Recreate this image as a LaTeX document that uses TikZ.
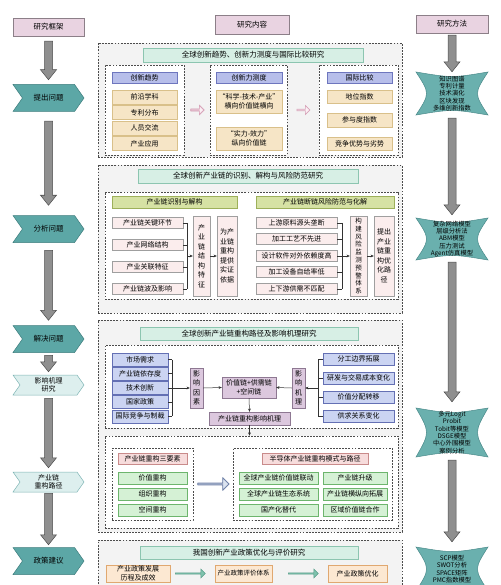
\documentclass[tikz,border=0pt]{standalone}
\usepackage{fontspec}
\setmainfont{Noto Sans CJK SC}
\usetikzlibrary{shapes.symbols,shapes.arrows,arrows.meta,calc}

\definecolor{cHead}{HTML}{E9D3E1}
\definecolor{cHeadL}{HTML}{8C7F88}
\definecolor{cStage}{HTML}{5CA7A6}
\definecolor{cStageL}{HTML}{3D7D7D}
\definecolor{cLite}{HTML}{DDEFEE}
\definecolor{cLiteL}{HTML}{7FB5B5}
\definecolor{cSec}{HTML}{F3F3F3}
\definecolor{cMint}{HTML}{D7EFE5}
\definecolor{cMintL}{HTML}{8CC5B0}
\definecolor{cBlueH}{HTML}{B7BEEA}
\definecolor{cBlueHL}{HTML}{6E76BE}
\definecolor{cTan}{HTML}{F6E5C6}
\definecolor{cTanL}{HTML}{D9C08A}
\definecolor{cOlive}{HTML}{D6E2A4}
\definecolor{cOliveL}{HTML}{9DB05A}
\definecolor{cPinkIt}{HTML}{FBEDED}
\definecolor{cMauve}{HTML}{DCC8DE}
\definecolor{cMauveL}{HTML}{8E7892}
\definecolor{cBlueIt}{HTML}{CBD4F2}
\definecolor{cBlueItL}{HTML}{6470B4}
\definecolor{cGreen}{HTML}{D5F1D5}
\definecolor{cGreenL}{HTML}{6DB56D}
\definecolor{cPinkH}{HTML}{F7DCDC}
\definecolor{cPinkHL}{HTML}{C98B8B}
\definecolor{cPeach}{HTML}{FCE8D2}
\definecolor{cPeachL}{HTML}{E0A870}
\definecolor{cMethod}{HTML}{6AB0AE}
\definecolor{cMethodL}{HTML}{4A8A8A}
\definecolor{cArrow}{HTML}{8F8F8F}
\definecolor{cHollow}{HTML}{FBEFF4}
\definecolor{cHollowL}{HTML}{D7A2B8}
\definecolor{cBigAr}{HTML}{DCE4F0}
\definecolor{cBigArL}{HTML}{6C7EA6}
\definecolor{cSolid}{HTML}{7EC3AE}
\definecolor{cSolidL}{HTML}{5A9E8A}

\tikzset{
  box/.style={draw, inner sep=0pt, align=center, line width=0.45pt, font=\fontsize{7}{8.5}\selectfont},
  headbox/.style={fill=cHead, draw=cHeadL, font=\fontsize{7.5}{9}\selectfont},
  stage/.style={shape=signal, signal from=west, signal to=east, signal pointer angle=110,
    fill=cStage, draw=cStageL, line width=0.5pt, inner sep=0pt, minimum width=71pt,
    minimum height=27pt, align=center, font=\fontsize{7.5}{9}\selectfont},
  stagelite/.style={stage, fill=cLite, draw=cLiteL, minimum height=20pt, font=\fontsize{7}{8}\selectfont},
  section/.style={fill=cSec, draw=black!70, line width=0.8pt, dash pattern=on 1.8pt off 1.3pt},
  subsec/.style={section, fill=white, line width=0.7pt},
  titlebar/.style={fill=cMint, draw=cMintL, font=\fontsize{7.5}{9}\selectfont},
  bluehead/.style={fill=cBlueH, draw=cBlueHL},
  tanitem/.style={fill=cTan, draw=cTanL},
  olivehead/.style={fill=cOlive, draw=cOliveL},
  pinkitem/.style={fill=cPinkIt, draw=gray!75},
  vtxt/.style={pinkitem, font=\fontsize{7}{9.5}\selectfont},
  mauvebox/.style={fill=cMauve, draw=cMauveL},
  blueitem/.style={fill=cBlueIt, draw=cBlueItL},
  greenitem/.style={fill=cGreen, draw=cGreenL},
  pinkhead/.style={fill=cPinkH, draw=cPinkHL},
  peachitem/.style={fill=cPeach, draw=cPeachL},
  methodshape/.style={fill=cMethod, draw=cMethodL, line width=0.5pt},
  methodtext/.style={inner sep=0pt, align=center, minimum width=72pt, font=\fontsize{6.3}{7.4}\selectfont},
  fatgray/.style={fill=cArrow, draw=black!70, line width=0.5pt},
  hollowarrow/.style={shape=single arrow, draw=cHollowL, fill=cHollow, line width=0.6pt,
    inner sep=0pt, minimum height=13pt, minimum width=9pt, single arrow head extend=1.5pt},
  bigarrow/.style={shape=single arrow, draw=cBigArL, fill=cBigAr, line width=0.6pt,
    inner sep=0pt, minimum height=31pt, minimum width=12pt, single arrow head extend=2pt},
  solidarrow/.style={shape=single arrow, draw=cSolidL, fill=cSolid, line width=0.5pt,
    inner sep=0pt, minimum height=30pt, minimum width=9pt, single arrow head extend=1.5pt},
  link/.style={draw=black!80, line width=0.5pt},
}

% box from corner (x1,y1) to (x2,y2), in pixels
\newcommand\bx[7][]{\node[box,#1,minimum width={((#5)-(#3))*1pt},minimum height={((#6)-(#4))*1pt}] (#2) at ({((#3)+(#5))/2},{((#4)+(#6))/2}) {#7};}
% method shape with concave sides
\newcommand\methodbox[5]{%
  \filldraw[methodshape] ({#2-36},#3) .. controls (#2,{#3+6}) .. ({#2+36},#3)
    .. controls ({#2+22},{(#3+#4)/2}) .. ({#2+36},#4)
    .. controls (#2,{#4-6}) .. ({#2-36},#4)
    .. controls ({#2-22},{(#3+#4)/2}) .. ({#2-36},#3) -- cycle;
  \node[methodtext,minimum height={(#4-#3)*1pt}] (#1) at (#2,{(#3+#4)/2}) {#5};}
% fat gray arrow between two nodes
\newcommand\fatdown[4]{%
  \path (#1) ++(0,#3) coordinate (fdA) (#2) ++(0,-#4) coordinate (fdB);
  \filldraw[fatgray] ($(fdA)+(-4,0)$) -- ($(fdB)+(-4,-10)$) -- ($(fdB)+(-8,-10)$) -- (fdB)
    -- ($(fdB)+(8,-10)$) -- ($(fdB)+(4,-10)$) -- ($(fdA)+(4,0)$) -- cycle;}

\begin{document}
\begin{tikzpicture}[x=1pt,y=-1pt,>={Stealth[length=3.2pt,width=2.8pt]}]
\useasboundingbox (0,0) rectangle (500,585);

% column heads
\bx[headbox]{hFrame}{13}{18}{84}{36}{研究框架}
\bx[headbox]{hContent}{215}{15}{289}{34}{研究内容}
\bx[headbox]{hMethod}{416}{15}{488}{33}{研究方法}

% left column
\node[stage] (s1) at (48.5,98) {提出问题};
\node[stage] (s2) at (48.5,229) {分析问题};
\node[stage] (s3) at (48.5,339) {解决问题};
\node[stagelite] (s4) at (48.5,385) {影响机理\\研究};
\node[stagelite] (s5) at (48.5,482) {产业链\\重构路径};
\node[stage] (s6) at (48.5,561) {政策建议};
\fatdown{hFrame.south}{s1.north}{5}{4.5}
\fatdown{s1.south}{s2.north}{9.5}{10}
\fatdown{s2.south}{s3.north}{7.5}{5}
\fatdown{s3.south}{s4.north}{2.5}{3}
\fatdown{s4.south}{s5.north}{3}{4}
\fatdown{s5.south}{s6.north}{1}{2.5}

% right column
\methodbox{m1}{452}{72}{115}{知识图谱\\专利计量\\技术演化\\区块发现\\多维创新指数}
\methodbox{m2}{452}{218}{260}{复杂网络模型\\层级分析法\\ABM模型\\压力测试\\Agent仿真模型}
\methodbox{m3}{452}{408}{457}{多元Logit\\Probit\\Tobit等模型\\DSGE模型\\中心外围模型\\案例分析}
\methodbox{m4}{452}{547}{591}{SCP模型\\SWOT分析\\SPACE矩阵\\PMC指数模型}
\fatdown{hMethod.south}{m1.north}{2}{0}
\fatdown{m1.south}{m2.north}{3}{3}
\fatdown{m2.south}{m3.north}{2}{6}
\fatdown{m3.south}{m4.north}{3}{5}

% section 1
\bx[section]{sec1}{98}{43}{402}{157}{}
\bx[titlebar]{t1}{143}{48}{363}{62}{全球创新趋势、创新力测度与国际比较研究}
\bx[subsec]{subA}{105}{65}{184}{155}{}
\bx[subsec]{subB}{210}{65}{287}{155}{}
\bx[subsec]{subC}{319}{65}{398}{155}{}
\bx[bluehead]{hA}{112}{72}{177}{83}{创新趋势}
\foreach \y/\t [count=\i] in {90/前沿学科,105.5/专利分布,121/人员交流,136.5/产业应用}
  \bx[tanitem]{a\i}{112}{\y}{177}{\y+14}{\t}
\bx[bluehead]{hB}{216}{72}{282}{83}{创新力测度}
\bx[tanitem]{b1}{216}{90}{282}{113}{“科学-技术-产业”\\横向价值链横向}
\bx[tanitem]{b2}{216}{127}{282}{150}{“实力-效力”\\纵向价值链}
\bx[bluehead]{hC}{327}{72}{392}{83}{国际比较}
\bx[tanitem]{c1}{327}{90}{392}{103}{地位指数}
\bx[tanitem]{c2}{327}{113}{392}{127}{参与度指数}
\bx[tanitem]{c3}{327}{137}{392}{150}{竞争优势与劣势}
\node[hollowarrow] (arAB) at ($(subA.east)!0.5!(subB.west)$ |- hA) {};
\node[hollowarrow] (arBC) at ($(subB.east)!0.5!(subC.west)$ |- hA) {};

% section 2
\bx[section]{sec2}{98}{165}{402}{313}{}
\bx[titlebar]{t2}{138}{169}{358}{183}{全球创新产业链的识别、解构与风险防范研究}
\bx[subsec]{subD}{105}{192}{398}{299}{}
\bx[olivehead]{hD}{112}{196}{237}{208}{产业链识别与解构}
\foreach \y/\t [count=\i] in {217/产业链关键环节,239/产业网络结构,261/产业关联特征,283/产业链波及影响}
  \bx[pinkitem]{d\i}{112}{\y}{183}{\y+11.5}{\t}
\bx[vtxt]{dv1}{193}{216}{210}{296}{产\\业\\链\\结\\构\\特\\征}
\bx[vtxt]{dv2}{217}{216}{237}{296}{为产\\业链\\重构\\提供\\实证\\依据}
\coordinate (brD) at (187,256);
\foreach \i in {1,...,4} \draw[link] (d\i.east) -- (d\i.east -| brD);
\draw[link] (d1.east -| brD) -- (d4.east -| brD);
\draw[link,->] (brD) -- (dv1.west);
\draw[link,->] (dv1.east) -- (dv2.west);
\bx[olivehead]{hE}{256}{196}{394}{208}{产业链断链风险防范与化解}
\foreach \y/\t [count=\i] in {217/上游原料源头垄断,233/加工工艺不先进,250/设计软件对外依赖度高,266/加工设备自给率低,283/上下游供需不匹配}
  \bx[pinkitem]{e\i}{256}{\y}{337}{\y+11.5}{\t}
\bx[vtxt,font=\fontsize{6.5}{7.8}\selectfont]{ev1}{350}{216}{367}{296}{构\\建\\风\\险\\监\\测\\预\\警\\体\\系}
\bx[vtxt]{ev2}{374}{216}{394}{296}{提出\\产业\\链重\\构优\\化路\\径}
\coordinate (brE) at (342,256);
\foreach \i in {1,...,5} \draw[link] (e\i.east) -- (e\i.east -| brE);
\draw[link] (e1.east -| brE) -- (e5.east -| brE);
\draw[link,->] (brE) -- (ev1.west);
\draw[link,->] (ev1.east) -- (ev2.west);

% section 3
\bx[section]{sec3}{98}{320}{402}{532}{}
\bx[titlebar]{t3}{140}{327}{358}{340}{全球创新产业链重构路径及影响机理研究}
\bx[subsec]{subF}{105}{345}{398}{428}{}
\foreach \t [count=\i] in {市场需求,产业链依存度,技术创新,国家政策,国际竞争与制裁}
  \bx[blueitem]{f\i}{112}{353+14.2*(\i-1)}{168}{366+14.2*(\i-1)}{\t}
\bx[mauvebox,font=\fontsize{7}{9.5}\selectfont]{fv}{190}{368}{203}{408}{影\\响\\因\\素}
\bx[mauvebox]{g}{222}{377}{276}{398}{价值链+供需链\\+空间链}
\bx[mauvebox]{h}{209}{412}{290}{425}{产业链重构影响机理}
\bx[mauvebox,font=\fontsize{7}{9.5}\selectfont]{kv}{292}{368}{305}{408}{影\\响\\机\\理}
\foreach \y/\t [count=\i] in {353/分工边界拓展,372/研发与交易成本变化,391/价值分配转移,410/供求关系变化}
  \bx[blueitem]{k\i}{323}{\y}{394}{\y+12}{\t}
\coordinate (brF) at (172,388);
\foreach \i in {1,...,5} \draw[link] (f\i.east) -- (f\i.east -| brF);
\draw[link] (f1.east -| brF) -- (f5.east -| brF);
\draw[link,->] (brF) -- (fv.west);
\draw[link,->] (fv.east) -- (g.west);
\coordinate (brK) at (318,388);
\foreach \i in {1,...,4} \draw[link] (k\i.west) -- (k\i.west -| brK);
\draw[link] (k1.west -| brK) -- (k4.west -| brK);
\draw[link,->] (brK) -- (kv.east);
\draw[link,->] (kv.west) -- (g.east);
\draw[link,->] (g.south) -- (h.north);
\bx[subsec]{subG}{105}{436}{398}{528}{}
\draw[link,->] (h.south) -- (h.south |- subG.north);
\bx[subsec]{subH}{112}{448}{193}{520}{}
\bx[pinkhead]{hH}{118}{453}{187}{464}{产业链重构三要素}
\foreach \y/\t [count=\i] in {472/价值重构,488/组织重构,504/空间重构}
  \bx[greenitem]{l\i}{118}{\y}{187}{\y+12}{\t}
\bx[subsec]{subJ}{233}{448}{392}{520}{}
\bx[pinkhead]{hJ}{262}{453}{368}{464}{半导体产业链重构模式与路径}
\foreach \y/\ta/\tb [count=\i] in {472/全球产业链价值链联动/产业链升级,488/全球产业链生态系统/产业链横纵向拓展,504/国产化替代/区域价值链合作}{
  \bx[greenitem]{p\i}{239}{\y}{318}{\y+12}{\ta}
  \bx[greenitem]{q\i}{323}{\y}{387}{\y+12}{\tb}
}
\node[bigarrow] (arHJ) at ($(subH.east)!0.5!(subJ.west)$) {};

% section 4
\bx[section]{sec4}{98}{540}{402}{600}{}
\bx[titlebar]{t4}{140}{546}{358}{559}{我国创新产业政策优化与评价研究}
\bx[peachitem]{n1}{106}{565}{170}{582}{产业政策发展\\历程及成效}
\bx[peachitem,font=\fontsize{6.5}{8}\selectfont]{n2}{215}{565}{272}{582}{产业政策评价体系}
\bx[peachitem]{n3}{328}{565}{387}{582}{产业政策优化}
\node[solidarrow] (ar12) at (190,573.5) {};
\node[solidarrow] (ar23) at (303,573.5) {};
\end{tikzpicture}
\end{document}
